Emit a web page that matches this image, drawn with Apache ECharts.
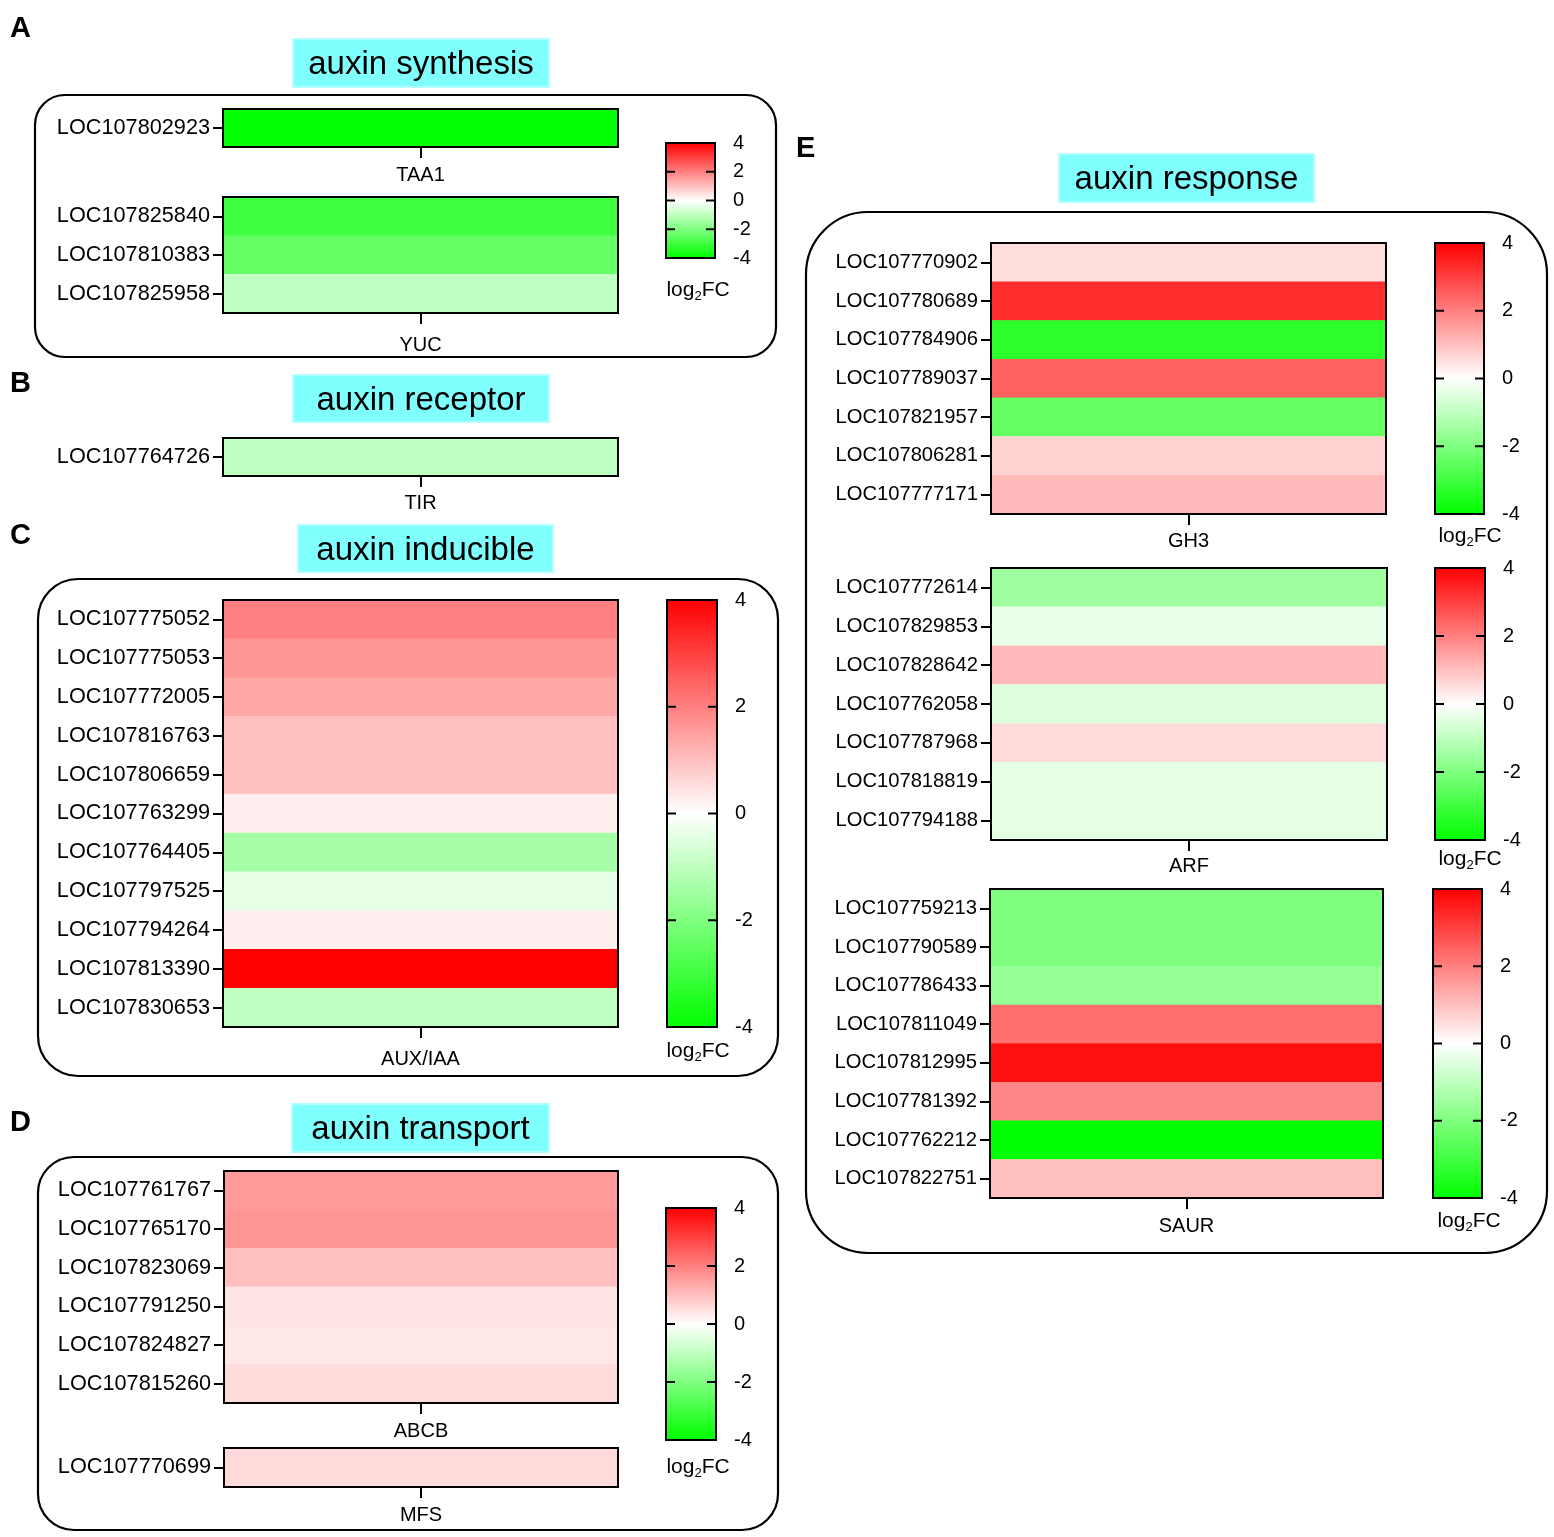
<!DOCTYPE html>
<html>
<head>
<meta charset="utf-8">
<script src="https://cdn.jsdelivr.net/npm/echarts@6/dist/echarts.min.js"></script>
<style>html,body{margin:0;padding:0;background:#fff}#c{width:1554px;height:1537px}</style>
</head>
<body>
<div id="c"></div>
<script>
// ---------- DATA (log2FC) ----------
const taa1Genes = ['LOC107802923'];
const taa1Values = [-3.95];
const yucGenes = ['LOC107825840', 'LOC107810383', 'LOC107825958'];
const yucValues = [-3.0, -2.4, -0.95];
const tirGenes = ['LOC107764726'];
const tirValues = [-1.0];
const auxGenes = ['LOC107775052', 'LOC107775053', 'LOC107772005', 'LOC107816763', 'LOC107806659', 'LOC107763299',
  'LOC107764405', 'LOC107797525', 'LOC107794264', 'LOC107813390', 'LOC107830653'];
const auxValues = [2.0, 1.65, 1.4, 1.0, 1.0, 0.27, -1.4, -0.4, 0.27, 4.0, -0.95];
const abcbGenes = ['LOC107761767', 'LOC107765170', 'LOC107823069', 'LOC107791250', 'LOC107824827', 'LOC107815260'];
const abcbValues = [1.57, 1.65, 1.0, 0.4, 0.37, 0.55];
const mfsGenes = ['LOC107770699'];
const mfsValues = [0.58];
const gh3Genes = ['LOC107770902', 'LOC107780689', 'LOC107784906', 'LOC107789037', 'LOC107821957', 'LOC107806281', 'LOC107777171'];
const gh3Values = [0.52, 3.3, -3.3, 2.5, -2.45, 0.7, 1.1];
const arfGenes = ['LOC107772614', 'LOC107829853', 'LOC107828642', 'LOC107762058', 'LOC107787968', 'LOC107818819', 'LOC107794188'];
const arfValues = [-1.5, -0.36, 1.1, -0.52, 0.58, -0.42, -0.42];
const saurGenes = ['LOC107759213', 'LOC107790589', 'LOC107786433', 'LOC107811049', 'LOC107812995', 'LOC107781392', 'LOC107762212', 'LOC107822751'];
const saurValues = [-2.0, -2.0, -1.65, 2.27, 3.75, 1.9, -4.0, 1.0];
const colorTicks = { min: -4, max: 4, interval: 2 };
const innerTickValues = [2, 0, -2];
const panelTitles = ['auxin synthesis', 'auxin receptor', 'auxin inducible', 'auxin transport', 'auxin response'];
const panelLetters = ['A', 'B', 'C', 'D', 'E'];
const legendName = 'log{s|2}FC';

// ---------- LAYOUT ----------
const FONT = '"Liberation Sans", Arial, Helvetica, sans-serif';
const blocks = [
  { genes: taa1Genes, values: taa1Values, group: 'TAA1', box: [223, 109, 395, 38], fs: 21.7, m: 18 },
  { genes: yucGenes, values: yucValues, group: 'YUC', box: [223, 197, 395, 116], fs: 21.7, m: 22 },
  { genes: tirGenes, values: tirValues, group: 'TIR', box: [223, 438, 395, 38], fs: 21.7, m: 17 },
  { genes: auxGenes, values: auxValues, group: 'AUX/IAA', box: [223, 600, 395, 427], fs: 21.7, m: 22 },
  { genes: abcbGenes, values: abcbValues, group: 'ABCB', box: [224, 1171, 394, 232], fs: 21.7, m: 18 },
  { genes: mfsGenes, values: mfsValues, group: 'MFS', box: [224, 1448, 394, 39], fs: 21.7, m: 18 },
  { genes: gh3Genes, values: gh3Values, group: 'GH3', box: [991, 243, 395, 271], fs: 20.2, m: 17 },
  { genes: arfGenes, values: arfValues, group: 'ARF', box: [991, 568, 396, 272], fs: 20.2, m: 16 },
  { genes: saurGenes, values: saurValues, group: 'SAUR', box: [990, 889, 393, 309], fs: 20.2, m: 18 }
];
const bars = [
  { box: [666, 143, 49, 115], leg: [698, 290], m: 18 },
  { box: [667, 600, 50, 427], leg: [698, 1051], m: 18 },
  { box: [666, 1208, 50, 232], leg: [698, 1467], m: 18 },
  { box: [1435, 243, 49, 271], leg: [1470, 536], m: 18 },
  { box: [1435, 568, 50, 272], leg: [1470, 859], m: 18 },
  { box: [1433, 889, 49, 309], leg: [1469, 1221], m: 18 }
];
const titleBoxes = [[293, 39, 256, 48], [293, 375, 256, 47], [298, 525, 255, 47], [292, 1104, 257, 48], [1059, 154, 255, 48]];
const letterPos = [[10, 29], [10, 384], [10, 536], [10, 1123], [796, 149]];
const frames = [[35, 95, 741, 262, 30], [38, 579, 740, 497, 40], [38, 1157, 740, 373, 36], [806, 212, 741, 1041, 62]];

const grid = [], xAxis = [], yAxis = [], series = [], graphic = [];
const line = { color: '#000', width: 2 };
const TICK = 9;

blocks.forEach((b, i) => {
  grid.push({ left: b.box[0], top: b.box[1], width: b.box[2], height: b.box[3], show: true,
    borderColor: '#000', borderWidth: 2, backgroundColor: 'transparent', z: 5 });
  xAxis.push({ gridIndex: i, type: 'category', data: [b.group], axisLine: { show: false },
    axisTick: { show: true, alignWithLabel: true, length: 11, lineStyle: line },
    axisLabel: { color: '#000', fontSize: 20, fontFamily: FONT, margin: b.m }, splitLine: { show: false } });
  yAxis.push({ gridIndex: i, type: 'category', data: b.genes, inverse: true, axisLine: { show: false },
    axisTick: { show: true, alignWithLabel: true, length: 10, lineStyle: line },
    axisLabel: { color: '#000', fontSize: b.fs, fontFamily: FONT, margin: 13 }, splitLine: { show: false } });
  series.push({ type: 'heatmap', xAxisIndex: i, yAxisIndex: i, z: 2,
    data: b.values.map((v, j) => [0, j, v]), emphasis: { disabled: true }, itemStyle: { borderWidth: 0 } });
});

bars.forEach((c, k) => {
  const gi = grid.length;
  grid.push({ left: c.box[0], top: c.box[1], width: c.box[2], height: c.box[3], show: true,
    borderColor: '#000', borderWidth: 2, backgroundColor: 'transparent', z: 5 });
  xAxis.push({ gridIndex: gi, type: 'value', show: false, min: 0, max: 1 });
  yAxis.push({ gridIndex: gi, type: 'value', position: 'right',
    min: colorTicks.min, max: colorTicks.max, interval: colorTicks.interval,
    axisLine: { show: false }, splitLine: { show: false }, axisTick: { show: false },
    axisLabel: { color: '#000', fontSize: 20, fontFamily: FONT, margin: c.m } });
  series.push({ type: 'custom', xAxisIndex: gi, yAxisIndex: gi, z: 6, silent: true, clip: false,
    data: innerTickValues.map(v => [0, v]), encode: { x: 0, y: 1 },
    renderItem: (params, api) => {
      const a = api.coord([0, api.value(1)]);
      const b = api.coord([1, api.value(1)]);
      const st = { stroke: '#000', lineWidth: 2 };
      return { type: 'group', children: [
        { type: 'line', shape: { x1: a[0], y1: a[1], x2: a[0] + TICK, y2: a[1] }, style: st },
        { type: 'line', shape: { x1: b[0] - TICK, y1: b[1], x2: b[0], y2: b[1] }, style: st }
      ] };
    } });
  graphic.push({ type: 'rect', z: -10, silent: true,
    shape: { x: c.box[0], y: c.box[1], width: c.box[2], height: c.box[3] },
    style: { fill: { type: 'linear', x: 0, y: 0, x2: 0, y2: 1,
      colorStops: [{ offset: 0, color: '#ff0000' }, { offset: 0.5, color: '#ffffff' }, { offset: 1, color: '#00ff00' }] } } });
  graphic.push({ type: 'text', z: 10, silent: true, x: c.leg[0], y: c.leg[1],
    style: { text: legendName, align: 'center', verticalAlign: 'middle', fontSize: 21, fontFamily: FONT, fill: '#000',
      rich: { s: { fontSize: 13, fontFamily: FONT, fill: '#000', padding: [12, 0, 0, 0] } } } });
});

frames.forEach(f => {
  graphic.push({ type: 'rect', z: -20, silent: true, shape: { x: f[0], y: f[1], width: f[2], height: f[3], r: f[4] },
    style: { fill: 'none', stroke: '#000', lineWidth: 2.2 } });
});
titleBoxes.forEach((t, k) => {
  graphic.push({ type: 'rect', z: -20, silent: true, shape: { x: t[0], y: t[1], width: t[2], height: t[3] },
    style: { fill: '#80ffff', stroke: '#b3ffff', lineWidth: 2 } });
  graphic.push({ type: 'text', z: 10, silent: true, x: t[0] + t[2] / 2, y: t[1] + t[3] / 2 + 2,
    style: { text: panelTitles[k], align: 'center', verticalAlign: 'middle', fontSize: 33, fontFamily: FONT, fill: '#000' } });
});
letterPos.forEach((p, k) => {
  graphic.push({ type: 'text', z: 10, silent: true, x: p[0], y: p[1],
    style: { text: panelLetters[k], align: 'left', verticalAlign: 'middle', fontSize: 29, fontWeight: 'bold', fontFamily: FONT, fill: '#000' } });
});

const chart = echarts.init(document.getElementById('c'), null, { renderer: 'canvas' });
chart.setOption({
  animation: false,
  backgroundColor: '#ffffff',
  grid, xAxis, yAxis, series, graphic,
  visualMap: { type: 'continuous', show: false, min: colorTicks.min, max: colorTicks.max, dimension: 2,
    seriesIndex: blocks.map((b, i) => i), inRange: { color: ['#00ff00', '#ffffff', '#ff0000'] } }
});
</script>
</body>
</html>
